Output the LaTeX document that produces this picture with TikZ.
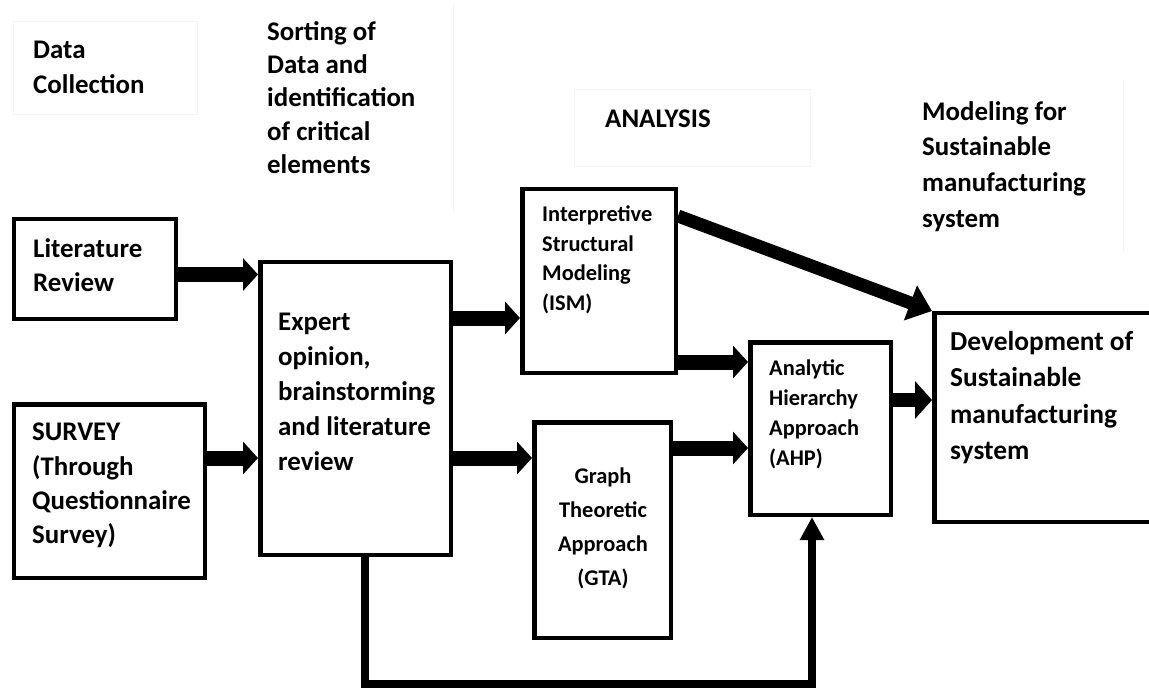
\documentclass[tikz,border=0pt]{standalone}
\usepackage{fontspec}
\setmainfont{Carlito}
\usetikzlibrary{arrows.meta}
\begin{document}
\begin{tikzpicture}[x=1bp, y=-1bp,
  box/.style={draw, line width=4.5bp, rectangle, inner sep=0pt},
  lbl/.style={inner sep=0pt, anchor=north west, align=left,
    font=\bfseries\fontsize{27}{35}\selectfont},
  smalltext/.style={font=\bfseries\fontsize{22.5}{29.5}\selectfont},
  ghost/.style={draw=black!4, line width=1bp},
  flow/.style={line width=15bp, -{Triangle[length=15bp,width=32bp]}},
  bigflow/.style={line width=14bp, -{Triangle[length=17bp,width=37bp]}},
  slant/.style={line width=13bp, -{Triangle[length=23bp,width=36bp]}},
  loop/.style={line width=8.5bp, -{Triangle[length=23bp,width=23bp]}}
]
\useasboundingbox (0,0) rectangle (1149,688);
\fill[white] (0,0) rectangle (1149,688);
\clip (0,0) rectangle (1149,688);

% faint frames of the column headings
\draw[ghost] (13,22) rectangle (197,115);
\draw[ghost] (453,4) -- (453,212);
\draw[ghost] (574,90) rectangle (810,167);
\draw[ghost] (1123,80) -- (1123,252);

% column headings
\node[lbl] (hcol) at (33,41) {Data\\Collection};
\node[lbl, font=\bfseries\fontsize{27}{33.5}\selectfont] (hsort) at (267,21)
  {Sorting of\\Data and\\identification\\of critical\\elements};
\node[lbl] (hana) at (605,110) {ANALYSIS};
\node[lbl, font=\bfseries\fontsize{27}{36}\selectfont] (hmod) at (922,101)
  {Modeling for\\Sustainable\\manufacturing\\system};

% process boxes
\node[box, minimum width=161.5bp, minimum height=99.5bp]  (lit) at (95,269) {};
\node[box, minimum width=190.5bp, minimum height=173.5bp] (sur) at (109.5,491) {};
\node[box, minimum width=190.5bp, minimum height=292.5bp] (exp) at (355.5,408.5) {};
\node[box, minimum width=153.5bp, minimum height=183.5bp] (ism) at (599,281) {};
\node[box, minimum width=136.5bp, minimum height=215.5bp] (gta) at (602.5,530) {};
\node[box, minimum width=140.5bp, minimum height=172.5bp] (ahp) at (820.5,428.5) {};
\node[box, minimum width=223.5bp, minimum height=208.5bp] (dev) at (1046,417.5) {};

% box texts
\node[lbl] (tlit) at (33,238) {Literature\\Review};
\node[lbl, font=\bfseries\fontsize{27}{34.5}\selectfont] (tsur) at (32,423)
  {SURVEY\\(Through\\Questionnaire\\Survey)};
\node[lbl] (texp) at (278,313)
  {Expert\\opinion,\\brainstorming\\and literature\\review};
\node[lbl, smalltext] (tism) at (542,206)
  {Interpretive\\Structural\\Modeling\\(ISM)};
\node[lbl, anchor=north, align=center, font=\bfseries\fontsize{22.5}{34}\selectfont]
  (tgta) at (603,468) {Graph\\Theoretic\\Approach\\(GTA)};
\node[lbl, font=\bfseries\fontsize{22.5}{30}\selectfont] (tahp) at (769,360)
  {Analytic\\Hierarchy\\Approach\\(AHP)};
\node[lbl, font=\bfseries\fontsize{27.5}{36.5}\selectfont] (tdev) at (950,331)
  {Development of\\Sustainable\\manufacturing\\system};

% connectors
\draw[flow] (lit.east |- 0,274.5) -- (exp.west |- 0,274.5);
\draw[flow] (sur.east |- 0,458) -- (exp.west |- 0,458);
\draw[flow] (exp.east |- 0,318) -- (ism.west |- 0,318);
\draw[flow] (exp.east |- 0,458) -- (gta.west |- 0,458);
\draw[flow] (ism.east |- 0,362) -- (ahp.west |- 0,362);
\draw[flow] (gta.east |- 0,448) -- (ahp.west |- 0,448);
\draw[bigflow] (ahp.east |- 0,400) -- (dev.west |- 0,400);
\draw[slant] (ism.east |- 0,216) -- (dev.north west);
\draw[loop] ([xshift=9.5bp]exp.south) -- ++(0,127) -| ([xshift=-8.5bp]ahp.south);
\end{tikzpicture}
\end{document}
